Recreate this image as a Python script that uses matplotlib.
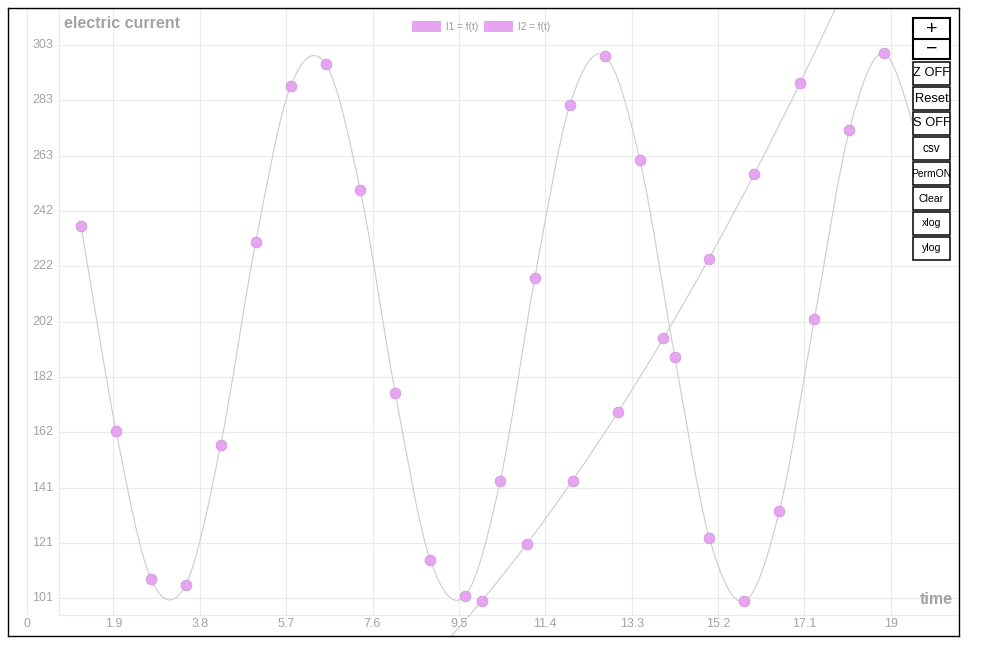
import matplotlib
matplotlib.use('Agg')
import matplotlib.pyplot as plt
from matplotlib.path import Path
from matplotlib.patches import PathPatch, Rectangle, Patch

plt.rcParams['font.family'] = ['Liberation Sans', 'DejaVu Sans']

# data
t1 = [1.19, 1.96, 2.73, 3.49, 4.26, 5.03, 5.80, 6.57, 7.33, 8.10, 8.87, 9.64, 10.41,
      11.17, 11.94, 12.71, 13.48, 14.25, 15.01, 15.78, 16.55, 17.32, 18.09, 18.85, 19.62]
i1 = [237, 162, 108, 106, 157, 231, 288, 296, 250, 176, 115, 102, 144,
      218, 281, 299, 261, 189, 123, 100, 133, 203, 272, 300, 267]
t2 = [9, 10, 11, 12, 13, 14, 15, 16, 17, 18]
i2 = [81, 100, 121, 144, 169, 196, 225, 256, 289, 324]

x_ticks = [0, 1.9, 3.8, 5.7, 7.6, 9.5, 11.4, 13.3, 15.2, 17.1, 19]
x_labels = ['0', '1.9', '3.8', '5.7', '7.6', '9.5', '11.4', '13.3', '15.2', '17.1', '19']
y_ticks = [101, 121.2, 141.4, 161.6, 181.8, 202, 222.2, 242.4, 262.6, 282.8, 303]
y_labels = ['101', '121', '141', '162', '182', '202', '222', '242', '263', '283', '303']
buttons = ['Z OFF', 'Reset', 'S OFF', 'csv', 'PermON', 'Clear', 'xlog', 'ylog']
button_sizes = [9.3, 9.3, 9.3, 8.5, 7.4, 7.6, 7.6, 7.6]

W, H = 1000, 660
pink = '#e6a4f2'
pink_edge = '#cf98da'
grid_c = '#ebebeb'
text_c = '#a3a3a3'

fig = plt.figure(figsize=(W / 100, H / 100), dpi=100)
fig.patch.set_facecolor('white')
ax = fig.add_axes([8 / W, (H - 636) / H, 951 / W, 628 / H])

xmin, xmax = -0.418, 20.50
ymin, ymax = 87.24, 316.5
ax.set_xlim(xmin, xmax)
ax.set_ylim(ymin, ymax)
ax.set_xticks([])
ax.set_yticks([])
for s in ax.spines.values():
    s.set_color('black')
    s.set_linewidth(1.0)

x_left = 0.704   # left frame line of plot area
y_bot = 94.8     # bottom frame line of plot area

ax.vlines(x_ticks, y_bot, ymax, color=grid_c, lw=0.8, zorder=0)
ax.hlines(y_ticks, x_left, xmax, color=grid_c, lw=0.8, zorder=0)
ax.vlines([x_left], y_bot, ymax, color=grid_c, lw=0.8, zorder=0)
ax.hlines([y_bot], x_left, xmax, color=grid_c, lw=0.8, zorder=0)

for x, lab in zip(x_ticks, x_labels):
    ax.text(x, 91.7, lab, ha='center', va='center', fontsize=9, color=text_c)
for y, lab in zip(y_ticks, y_labels):
    ax.text(0.572, y, lab, ha='right', va='center', fontsize=9, color=text_c)

ax.text((64 - 8) / 951, (636 - 24) / 628, 'electric current', transform=ax.transAxes,
        ha='left', va='center', fontsize=11.5, fontweight='bold', color=text_c)
ax.text((953 - 8) / 951, (636 - 600) / 628, 'time', transform=ax.transAxes,
        ha='right', va='center', fontsize=11.5, fontweight='bold', color=text_c)


def smooth_path(xs, ys):
    # catmull-rom through the points, as cubic bezier segments
    pts = list(zip(xs, ys))
    n = len(pts)
    verts = [pts[0]]
    codes = [Path.MOVETO]
    for k in range(n - 1):
        p0 = pts[k - 1] if k > 0 else pts[k]
        p1 = pts[k]
        p2 = pts[k + 1]
        p3 = pts[k + 2] if k + 2 < n else pts[k + 1]
        c1 = (p1[0] + (p2[0] - p0[0]) / 6, p1[1] + (p2[1] - p0[1]) / 6)
        c2 = (p2[0] - (p3[0] - p1[0]) / 6, p2[1] - (p3[1] - p1[1]) / 6)
        verts += [c1, c2, p2]
        codes += [Path.CURVE4] * 3
    return Path(verts, codes)


for xs, ys in [(t1, i1), (t2, i2)]:
    ax.add_patch(PathPatch(smooth_path(xs, ys), facecolor='none',
                           edgecolor='#cccccc', lw=0.8, zorder=2))
    ax.plot(xs, ys, 'o', ms=7.7, mfc=pink, mec=pink_edge, mew=0.6, zorder=3)

handles = [Patch(facecolor=pink, edgecolor='none', label='I1 = f(t)'),
           Patch(facecolor=pink, edgecolor='none', label='I2 = f(t)')]
ax.legend(handles=handles, loc='center', bbox_to_anchor=(481 / W, 1 - 26.5 / H),
          bbox_transform=fig.transFigure, ncol=2, frameon=False, fontsize=7.2,
          handlelength=2.9, handleheight=1.45, handletextpad=0.5,
          columnspacing=0.5, labelcolor='#999999')


# button panel on the right
def fig_rect(x0, y0, x1, y1, lw):
    r = Rectangle((x0 / W, 1 - y1 / H), (x1 - x0) / W, (y1 - y0) / H,
                  transform=fig.transFigure, facecolor='white',
                  edgecolor='black', lw=lw, zorder=5)
    fig.add_artist(r)
    return r


bx0, bx1 = 913, 950
fig_rect(bx0, 18, bx1, 59, 1.5)
fig.add_artist(plt.Line2D([bx0 / W, bx1 / W], [1 - 39 / H, 1 - 39 / H],
                          transform=fig.transFigure, color='black', lw=1.5, zorder=6))
fig.text((bx0 + bx1) / 2 / W, 1 - 29 / H, '+', ha='center', va='center',
         fontsize=14, color='black', zorder=7)
fig.text((bx0 + bx1) / 2 / W, 1 - 49.5 / H, '\u2212', ha='center', va='center',
         fontsize=14, color='black', zorder=7)

for k, (lab, fs) in enumerate(zip(buttons, button_sizes)):
    top = 62 + 25 * k
    r = fig_rect(bx0, top, bx1, top + 23, 1.1)
    t = fig.text((bx0 + bx1) / 2 / W, 1 - (top + 11.5) / H, lab, ha='center',
                 va='center', fontsize=fs, color='black', zorder=7)
    t.set_clip_path(r)

fig.savefig('out.png', dpi=100, facecolor='white')
